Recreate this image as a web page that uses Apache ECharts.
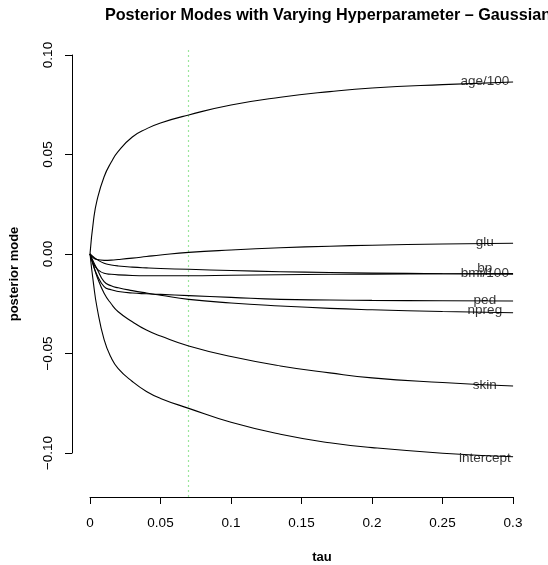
<!DOCTYPE html>
<html>
<head>
<meta charset="utf-8">
<script src="https://cdn.jsdelivr.net/npm/echarts@6/dist/echarts.min.js"></script>
<style>html,body{margin:0;padding:0;background:#fff}#c{width:548px;height:565px}</style>
</head>
<body>
<div id="c"></div>
<script>
// ---- data ----
const tau = [0, 0.0025, 0.005, 0.01, 0.015, 0.02, 0.03, 0.04, 0.05, 0.07, 0.1, 0.135, 0.17, 0.2, 0.25, 0.3];
const age100   = [0, 0.017, 0.027, 0.0388, 0.046, 0.0515, 0.0587, 0.0628, 0.0658, 0.0698, 0.0748, 0.0787, 0.0815, 0.0833, 0.085, 0.0863];
const glu      = [0, -0.002, -0.0028, -0.0032, -0.0031, -0.0028, -0.0021, -0.0013, -0.0005, 0.0008, 0.002, 0.0031, 0.0039, 0.0044, 0.005, 0.0054];
const bp       = [0, -0.0015, -0.0028, -0.0047, -0.0055, -0.006, -0.0066, -0.007, -0.0073, -0.0077, -0.0083, -0.0089, -0.0093, -0.0096, -0.0099, -0.0102];
const bmi100   = [0, -0.005, -0.0075, -0.0097, -0.0102, -0.0105, -0.0108, -0.0109, -0.0109, -0.0109, -0.0107, -0.0104, -0.0102, -0.0101, -0.0099, -0.0098];
const ped      = [0, -0.006, -0.0105, -0.0164, -0.018, -0.0188, -0.0196, -0.02, -0.0203, -0.0209, -0.0218, -0.0228, -0.0231, -0.0233, -0.0235, -0.0236];
const npreg    = [0, -0.004, -0.0075, -0.0139, -0.016, -0.017, -0.0184, -0.0196, -0.0207, -0.0228, -0.0246, -0.0261, -0.0273, -0.028, -0.0289, -0.0295];
const skin     = [0, -0.006, -0.0114, -0.0197, -0.025, -0.029, -0.034, -0.0382, -0.0412, -0.0462, -0.0515, -0.0562, -0.0597, -0.0622, -0.0645, -0.0663];
const intercept= [0, -0.015, -0.027, -0.043, -0.052, -0.0575, -0.064, -0.069, -0.0725, -0.0775, -0.0845, -0.0905, -0.0948, -0.0972, -0.1, -0.1018];

const seriesNames = ['age/100', 'glu', 'bp', 'bmi/100', 'ped', 'npreg', 'skin', 'intercept'];
const seriesValues = [age100, glu, bp, bmi100, ped, npreg, skin, intercept];
const labelTau = 0.28;
const labelY = [0.0866, 0.0057, -0.0072, -0.0097, -0.0231, -0.0285, -0.0658, -0.1024];
const tauMarker = 0.07;

const xTickLabels = ['0', '0.05', '0.1', '0.15', '0.2', '0.25', '0.3'];
const yTickLabels = ['\u22120.10', '\u22120.05', '0.00', '0.05', '0.10'];

// ---- chart ----
const FONT = '"Liberation Sans", Arial, Helvetica, sans-serif';
const chart = echarts.init(document.getElementById('c'), null, {renderer: 'canvas'});

const lineSeries = seriesValues.map((vals, i) => ({
  type: 'line',
  name: seriesNames[i],
  xAxisIndex: 0, yAxisIndex: 0,
  data: tau.map((t, j) => [t, vals[j]]),
  smooth: 0.5,
  showSymbol: false,
  symbol: 'none',
  silent: true,
  lineStyle: {color: '#000', width: 1.1},
  z: 3
}));
lineSeries[0].markLine = {
  silent: true,
  symbol: ['none', 'none'],
  label: {show: false},
  lineStyle: {color: '#9be69b', width: 1.2, type: [2, 3]},
  data: [{xAxis: tauMarker}],
  z: 1
};

const labelSeries = {
  type: 'scatter',
  xAxisIndex: 0, yAxisIndex: 0,
  symbolSize: 0,
  silent: true,
  data: seriesNames.map((n, i) => [labelTau, labelY[i], n]),
  label: {
    show: true, position: 'inside',
    formatter: p => p.data[2],
    color: '#000', fontSize: 13.5, fontFamily: FONT
  },
  z: 5
};

const option = {
  animation: false,
  backgroundColor: '#fff',
  title: {
    text: 'Posterior Modes with Varying Hyperparameter \u2013 Gaussian',
    left: 323, top: 3, textAlign: 'center',
    textStyle: {fontFamily: FONT, fontWeight: 'bold', fontSize: 16.2, color: '#000'}
  },
  grid: [
    {left: 72, right: 18, top: 48, bottom: 68, containLabel: false, outerBoundsMode: 'none'},
    {left: 90, right: 35, top: 55, bottom: 112, containLabel: false, outerBoundsMode: 'none'}
  ],
  xAxis: [
    {type: 'value', gridIndex: 0, min: -0.01277, max: 0.312, show: false},
    {type: 'value', gridIndex: 1, min: 0, max: 0.3, interval: 0.05, offset: 44,
     axisLine: {show: true, onZero: false, lineStyle: {color: '#000', width: 1}},
     axisTick: {show: true, length: 7, lineStyle: {color: '#000'}},
     splitLine: {show: false},
     axisLabel: {margin: 19, color: '#000', fontSize: 13.5, fontFamily: FONT,
       formatter: v => xTickLabels[Math.round(v / 0.05)]}}
  ],
  yAxis: [
    {type: 'value', gridIndex: 0, min: -0.122, max: 0.1034, show: false},
    {type: 'value', gridIndex: 1, min: -0.1, max: 0.1, interval: 0.05, offset: 18,
     axisLine: {show: true, onZero: false, lineStyle: {color: '#000', width: 1}},
     axisTick: {show: true, length: 7, lineStyle: {color: '#000'}},
     splitLine: {show: false},
     axisLabel: {margin: 17, rotate: 90, color: '#000', fontSize: 13.5, fontFamily: FONT,
       formatter: v => yTickLabels[Math.round(v / 0.05) + 2]}}
  ],
  graphic: [
    {type: 'text', x: 322, y: 557, silent: true,
     style: {text: 'tau', align: 'center', verticalAlign: 'middle', font: 'bold 13px ' + FONT, fill: '#000'}},
    {type: 'text', x: 14, y: 274, rotation: Math.PI / 2, silent: true,
     style: {text: 'posterior mode', align: 'center', verticalAlign: 'middle', font: 'bold 13px ' + FONT, fill: '#000'}}
  ],
  series: lineSeries.concat([labelSeries])
};
chart.setOption(option);
</script>
</body>
</html>
